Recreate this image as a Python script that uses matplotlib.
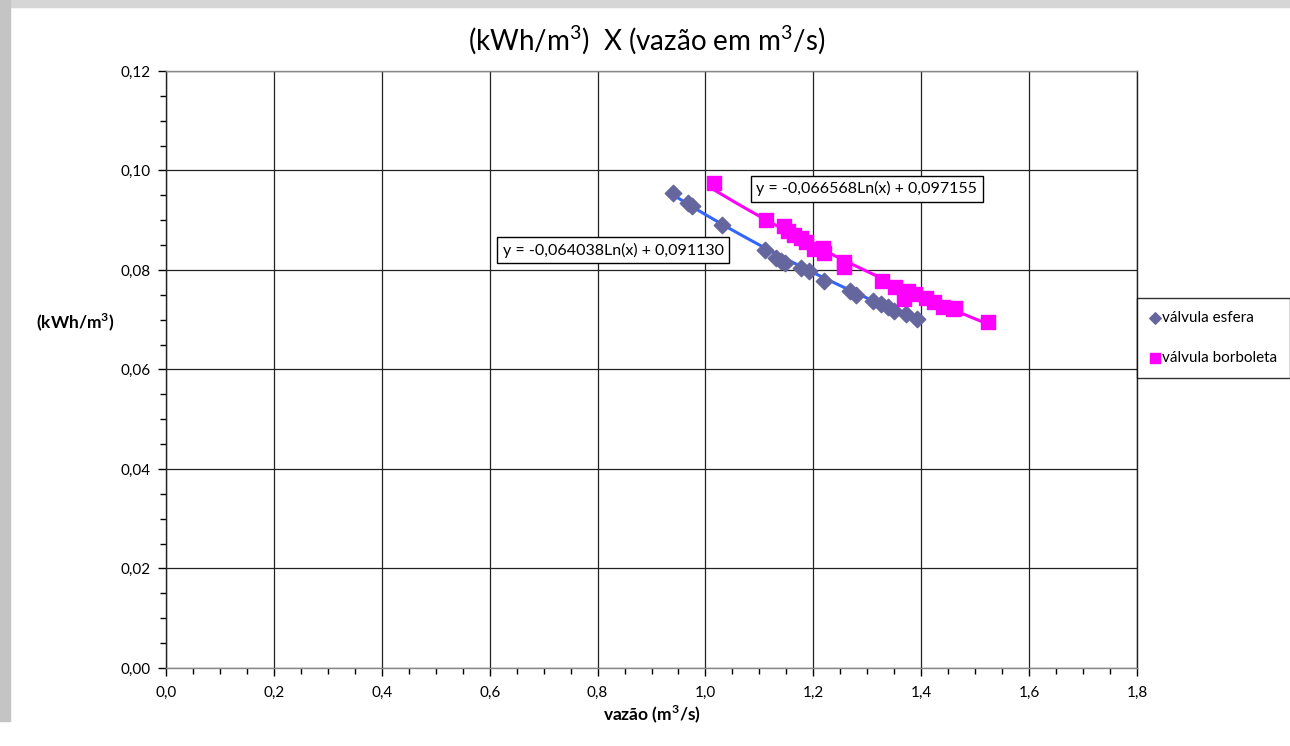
import matplotlib
matplotlib.use("Agg")
import matplotlib.pyplot as plt
import numpy as np
from matplotlib.patches import Rectangle
from matplotlib.ticker import FuncFormatter, MultipleLocator

plt.rcParams["font.family"] = ["Lato", "DejaVu Sans"]
plt.rcParams["mathtext.fontset"] = "custom"
plt.rcParams["mathtext.rm"] = "Lato"
plt.rcParams["mathtext.bf"] = "Lato:bold"

# válvula esfera (vazão m3/s, kWh/m3)
esfera_x = [0.940, 0.968, 0.975, 1.030, 1.110, 1.130, 1.140, 1.148, 1.178, 1.192,
            1.220, 1.268, 1.280, 1.310, 1.325, 1.338, 1.350, 1.372, 1.392]
esfera_y = [0.0954, 0.0935, 0.0929, 0.0890, 0.0840, 0.0825, 0.0818, 0.0813, 0.0803, 0.0797,
            0.0777, 0.0757, 0.0749, 0.0737, 0.0731, 0.0726, 0.0718, 0.0711, 0.0702]

# válvula borboleta
borb_x = [1.015, 1.113, 1.146, 1.153, 1.165, 1.177, 1.186, 1.202, 1.217, 1.220,
          1.256, 1.256, 1.327, 1.352, 1.376, 1.368, 1.389, 1.408, 1.423, 1.440,
          1.458, 1.462, 1.523]
borb_y = [0.0975, 0.0901, 0.0889, 0.0878, 0.0870, 0.0864, 0.0857, 0.0843, 0.0844, 0.0834,
          0.0815, 0.0806, 0.0777, 0.0766, 0.0757, 0.0741, 0.0751, 0.0743, 0.0735, 0.0726,
          0.0722, 0.0724, 0.0696]

# logarithmic trend lines: y = a*ln(x) + b
esfera_fit = (-0.064038, 0.091130)
borb_fit = (-0.066568, 0.097155)
esfera_eq = "y = -0,064038Ln(x) + 0,091130"
borb_eq = "y = -0,066568Ln(x) + 0,097155"

fig = plt.figure(figsize=(12.9, 7.46), dpi=100)

# grey frame around the chart area
fig.patches.append(Rectangle((0, 0.991), 1, 0.009, transform=fig.transFigure,
                             color="#d6d6d6", zorder=-1))
fig.patches.append(Rectangle((0, 0.033), 0.008, 0.967, transform=fig.transFigure,
                             color="#c4c4c4", zorder=-1))

ax = fig.add_axes([0.1287, 0.1046, 0.7527, 0.8003])

for xs, (a, b), col in [(esfera_x, esfera_fit, "#3366ff"), (borb_x, borb_fit, "#ff00ff")]:
    xx = np.linspace(min(xs), max(xs), 100)
    ax.plot(xx, a * np.log(xx) + b, color=col, lw=2.2, zorder=2)

ax.scatter(esfera_x, esfera_y, marker="D", s=70, color="#66669e", zorder=3,
           label="válvula esfera")
ax.scatter(borb_x, borb_y, marker="s", s=90, color="#ff00ff", zorder=3,
           label="válvula borboleta")

ax.set_xlim(0, 1.8)
ax.set_ylim(0, 0.12)
ax.xaxis.set_major_locator(MultipleLocator(0.2))
ax.xaxis.set_minor_locator(MultipleLocator(0.05))
ax.yaxis.set_major_locator(MultipleLocator(0.02))
ax.yaxis.set_minor_locator(MultipleLocator(0.005))
ax.xaxis.set_major_formatter(FuncFormatter(lambda v, p: f"{v:.1f}".replace(".", ",")))
ax.yaxis.set_major_formatter(FuncFormatter(lambda v, p: f"{v:.2f}".replace(".", ",")))
ax.tick_params(which="major", direction="out", length=6, width=1, labelsize=11)
ax.tick_params(axis="x", which="major", pad=7)
ax.tick_params(axis="y", which="major", pad=5)
ax.tick_params(which="minor", direction="out", length=4, width=1)
ax.grid(True, which="major", color="#222222", lw=0.9)
for s in ax.spines.values():
    s.set_color("#222222")
    s.set_linewidth(1)
ax.spines["bottom"].set_color("#888888")
ax.spines["top"].set_color("#888888")

ax.text(1.094, 0.0963, borb_eq, fontsize=11.5, va="center", ha="left", zorder=4,
        bbox=dict(boxstyle="square,pad=0.35", fc="white", ec="black", lw=1))
ax.text(0.624, 0.0840, esfera_eq, fontsize=11.5, va="center", ha="left", zorder=4,
        bbox=dict(boxstyle="square,pad=0.35", fc="white", ec="black", lw=1))

fig.text(0.501, 0.946, "(kWh/m$^3$)  X (vazão em m$^3$/s)", fontsize=20,
         ha="center", va="center")
ax.set_xlabel("vazão (m$^\\mathbf{3}$/s)", fontsize=12.5, fontweight="bold", labelpad=2)
fig.text(0.058, 0.568, "(kWh/m$^\\mathbf{3}$)", fontsize=12.5, fontweight="bold",
         ha="center", va="center")

leg = fig.legend(loc="upper left", bbox_to_anchor=(0.8814, 0.6005), fontsize=11,
                 frameon=True, fancybox=False, edgecolor="black", handlelength=0.6,
                 handletextpad=0.2, labelspacing=1.7, borderpad=0.85, borderaxespad=0,
                 markerscale=0.7)
leg.get_frame().set_linewidth(1)

fig.savefig("out.png", dpi=100)
